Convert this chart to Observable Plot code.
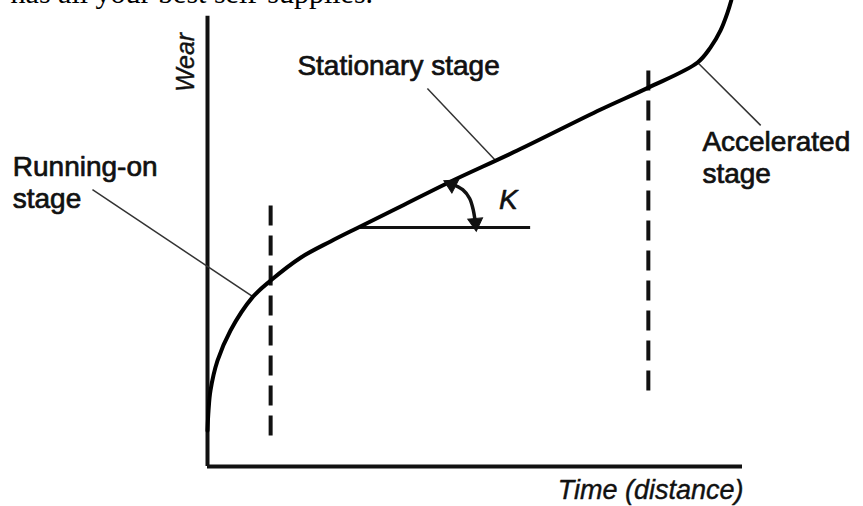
<!DOCTYPE html>
<html><head><meta charset="utf-8">
<script src="https://cdn.jsdelivr.net/npm/d3@7"></script>
<script src="https://cdn.jsdelivr.net/npm/@observablehq/plot@0.6"></script>
<style>
html,body{margin:0;padding:0;background:#fff;}
#chart{width:863px;height:506px;overflow:hidden;}
</style></head><body><div id="chart"></div>
<script>
// Wear curve (time 0..100, wear 0..100, schematic units)
const wearX = [0, 0.19, 0.56, 1.87, 4.3, 8.4, 11.8, 17.4, 23.0, 28.2, 36.1, 45.0, 57.9, 73.5, 82.4, 91.6, 94.0, 95.9, 97.2, 97.9];
const wearY = [7.7, 12.0, 16.3, 22.7, 29.2, 36.3, 39.9, 44.8, 48.3, 51.3, 55.8, 60.9, 67.8, 76.6, 81.3, 86.7, 89.9, 93.6, 97.4, 100];

// Stage boundaries (dashed)
const boundX = [11.8, 82.4];
const boundTop = [56.0, 85.0];
const boundBottom = [5.2, 16.3];

// Slope K reference line and angle arc
const kLineX = [28.2, 60.4];
const kLineY = 51.3;
const arcX = [45.4, 47.7, 49.0, 49.7, 50.1];
const arcY = [60.7, 59.4, 57.5, 54.9, 51.9];
// arrowheads at the two ends of the arc (rotation in degrees)
const arrowX = [45.6, 50.1];
const arrowY = [60.5, 52.3];
const arrowRot = [-63, 175];

// Stage labels
const stageLabels = ["Running-on\nstage", "Stationary stage", "Accelerated\nstage"];
const labelX = [-36.4, 16.8, 92.5];
const labelY = [55.4, 84.1, 60.9];
// Leader lines: from label to curve
const leaderX1 = [-21.5, 41.1, 103.4];
const leaderY1 = [59.4, 81.1, 73.2];
const leaderX2 = [8.4, 53.8, 91.6];
const leaderY2 = [36.5, 65.7, 86.7];

const axisTop = 96.6;
const axisRight = 100;

const curve = wearX.map((x, i) => ({x, y: wearY[i]}));
const bounds = boundX.map((x, i) => ({x, y1: boundTop[i], y2: boundBottom[i]}));
const arc = arcX.map((x, i) => ({x, y: arcY[i]}));
const arrows = arrowX.map((x, i) => ({x, y: arrowY[i], r: arrowRot[i]}));
const labels = stageLabels.map((t, i) => ({t, x: labelX[i], y: labelY[i]}));
const leaders = leaderX1.map((x1, i) => ({x1, y1: leaderY1[i], x2: leaderX2[i], y2: leaderY2[i]}));

const ink = "#111";
const sans = "Liberation Sans, Arial, sans-serif";

const chart = Plot.plot({
  width: 863,
  height: 506,
  marginLeft: 207,
  marginRight: 121,
  marginTop: 0,
  marginBottom: 40,
  x: {domain: [0, 100], axis: null},
  y: {domain: [0, 100], axis: null},
  style: {background: "#fff", overflow: "visible"},
  marks: [
    // page text fragment above the figure (cut off at the top, as in the source)
    Plot.text(["has all your best self-supplies."], {x: -36.8, y: 99.4, text: d => d, textAnchor: "start", lineAnchor: "bottom", fontSize: 30, fontFamily: "Liberation Serif, Times New Roman, serif", fill: "#000"}),
    // axes
    Plot.ruleX([0], {y1: 0, y2: axisTop, stroke: ink, strokeWidth: 4}),
    Plot.ruleY([0], {x1: 0, x2: axisRight, stroke: ink, strokeWidth: 4}),
    // stage boundaries
    Plot.link(bounds, {x1: "x", x2: "x", y1: "y1", y2: "y2", stroke: ink, strokeWidth: 4, strokeDasharray: "20,10"}),
    // leader lines
    Plot.link(leaders, {x1: "x1", y1: "y1", x2: "x2", y2: "y2", stroke: "#333", strokeWidth: 1.5}),
    // horizontal reference for K
    Plot.ruleY([kLineY], {x1: kLineX[0], x2: kLineX[1], stroke: ink, strokeWidth: 3}),
    // wear curve
    Plot.line(curve, {x: "x", y: "y", curve: "catmull-rom", stroke: "#000", strokeWidth: 4}),
    // angle arc with filled arrowheads
    Plot.line(arc, {x: "x", y: "y", curve: "catmull-rom", stroke: ink, strokeWidth: 3.5}),
    Plot.dot(arrows, {x: "x", y: "y", rotate: "r", symbol: "triangle", r: 5.5, fill: ink, stroke: ink, strokeWidth: 1}),
    Plot.text(["K"], {x: 54.5, y: 55.3, text: d => d, textAnchor: "start", lineAnchor: "bottom", fontSize: 28, fontStyle: "italic", fontFamily: sans, fill: ink, stroke: ink, strokeWidth: 0.6}),
    // stage labels
    Plot.text(labels, {x: "x", y: "y", text: "t", textAnchor: "start", lineAnchor: "bottom", lineHeight: 1.14, fontSize: 28, fontFamily: sans, fill: ink, stroke: ink, strokeWidth: 0.7}),
    // axis titles
    Plot.text(["Wear"], {x: -2.6, y: 86.7, text: d => d, rotate: -90, textAnchor: "middle", lineAnchor: "bottom", fontSize: 25, fontStyle: "italic", fontFamily: sans, fill: ink, stroke: ink, strokeWidth: 0.4}),
    Plot.text(["Time (distance)"], {x: 100.2, y: -6.87, text: d => d, textAnchor: "end", lineAnchor: "bottom", fontSize: 27, fontStyle: "italic", fontFamily: sans, fill: ink, stroke: ink, strokeWidth: 0.4})
  ]
});
document.getElementById("chart").append(chart);
</script>
</body></html>
